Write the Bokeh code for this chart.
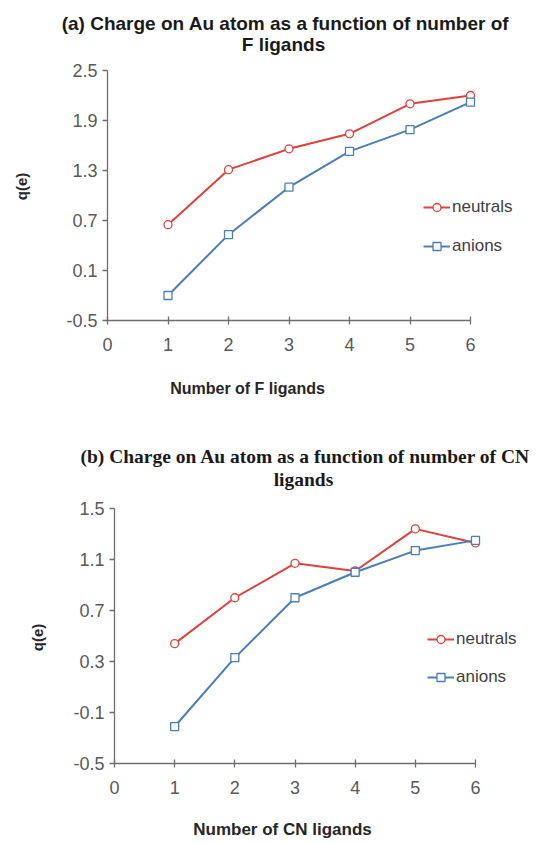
import math
from bokeh.plotting import figure
from bokeh.layouts import column
from bokeh.models import FixedTicker, Legend, LegendItem, Range1d, Label
from bokeh.embed import file_html
from bokeh.resources import INLINE

# ---- data ----
n_ligands = [1, 2, 3, 4, 5, 6]

f_neutrals = [0.65, 1.31, 1.56, 1.74, 2.10, 2.20]
f_anions = [-0.20, 0.53, 1.10, 1.53, 1.79, 2.12]

cn_neutrals = [0.44, 0.80, 1.07, 1.01, 1.34, 1.23]
cn_anions = [-0.21, 0.33, 0.80, 1.00, 1.17, 1.25]

f_yticks = [-0.5, 0.1, 0.7, 1.3, 1.9, 2.5]
cn_yticks = [-0.5, -0.1, 0.3, 0.7, 1.1, 1.5]
xticks = [0, 1, 2, 3, 4, 5, 6]

title_a = ["(a) Charge on Au atom as a function of number of", "F ligands"]
title_b = ["(b) Charge on Au atom as a function of number of CN", "ligands"]
xlabel_a = "Number of F ligands"
xlabel_b = "Number of CN ligands"
ylabel = "q(e)"
series_names = ["neutrals", "anions"]

RED = "#E2403A"
BLUE = "#4A7EBB"
TICK = "#595959"
AXIS = "#6e6e6e"
TITLE_C = "#1a1a1a"
LABEL_C = "#262626"
SANS = "Liberation Sans"
SERIF = "Liberation Serif"
FIG_W = 539


def make_chart(neu, ani, yticks, height, origin_px, axis_w, axis_h, texts,
               legend_loc, legend_spacing):
    """Whole figure is the frame; the axes sit at fixed data locations inside it.
    origin_px = (px from left, px from bottom) of the data point (0, yticks[0])."""
    ox, oy = origin_px
    ppx = axis_w / (xticks[-1] - xticks[0])
    ppy = axis_h / (yticks[-1] - yticks[0])
    x_range = Range1d(xticks[0] - ox / ppx, xticks[0] + (FIG_W - ox) / ppx)
    y_range = Range1d(yticks[0] - oy / ppy, yticks[0] + (height - oy) / ppy)
    p = figure(width=FIG_W, height=height, output_backend="svg",
               toolbar_location=None, title=None, x_range=x_range, y_range=y_range,
               min_border=0)
    p.outline_line_color = None
    p.grid.visible = False
    p.background_fill_color = "white"
    p.border_fill_color = "white"

    p.xaxis.fixed_location = yticks[0]
    p.yaxis.fixed_location = xticks[0]
    p.xaxis.ticker = FixedTicker(ticks=xticks)
    p.yaxis.ticker = FixedTicker(ticks=yticks)
    p.xaxis.bounds = (xticks[0], xticks[-1])
    p.yaxis.bounds = (yticks[0], yticks[-1])
    p.yaxis.major_label_overrides = {t: f"{t:g}" for t in yticks}
    for ax in (p.xaxis, p.yaxis):
        ax.axis_line_color = AXIS
        ax.axis_line_width = 1.3
        ax.major_tick_line_color = AXIS
        ax.major_tick_line_width = 1.3
        ax.minor_tick_line_color = None
        ax.major_label_text_font = SANS
        ax.major_label_text_font_size = "18px"
        ax.major_label_text_color = TICK
    p.xaxis.major_tick_in = 4
    p.xaxis.major_tick_out = 4
    p.yaxis.major_tick_in = 0
    p.yaxis.major_tick_out = 5
    p.xaxis.major_label_standoff = 13
    p.yaxis.major_label_standoff = 5

    l1 = p.line(n_ligands, neu, line_color=RED, line_width=2)
    s1 = p.scatter(n_ligands, neu, marker="circle", size=8, line_color=RED,
                   line_width=1.3, fill_color="white")
    l2 = p.line(n_ligands, ani, line_color=BLUE, line_width=2)
    s2 = p.scatter(n_ligands, ani, marker="square", size=8, line_color=BLUE,
                   line_width=1.3, fill_color="white")

    legend = Legend(items=[LegendItem(label=series_names[0], renderers=[l1, s1]),
                           LegendItem(label=series_names[1], renderers=[l2, s2])],
                    location=legend_loc, orientation="vertical",
                    glyph_width=27, glyph_height=20, label_standoff=2,
                    spacing=legend_spacing, padding=0, margin=0,
                    border_line_color=None, background_fill_alpha=0,
                    label_text_font=SANS, label_text_font_size="17px",
                    label_text_color="#404040")
    p.add_layout(legend, "center")

    for txt, sx, sy, font, size, color, angle in texts:
        p.add_layout(Label(x=sx, y=sy, x_units="screen", y_units="screen",
                           text=txt, text_align="center", text_baseline="middle",
                           angle=angle, text_font=font, text_font_style="bold",
                           text_font_size=size, text_color=color))
    return p


up = math.pi / 2
pa = make_chart(f_neutrals, f_anions, f_yticks, height=399, origin_px=(107, 79),
                axis_w=363, axis_h=250,
                texts=[(title_a[0], 285, 376, SANS, "19px", TITLE_C, 0),
                       (title_a[1], 283, 355, SANS, "19px", TITLE_C, 0),
                       (xlabel_a, 247, 11, SANS, "16px", LABEL_C, 0),
                       (ylabel, 21, 213, SANS, "15px", LABEL_C, up)],
                legend_loc=(423, 143), legend_spacing=19)
pb = make_chart(cn_neutrals, cn_anions, cn_yticks, height=439, origin_px=(114, 75),
                axis_w=361, axis_h=255,
                texts=[(title_b[0], 305, 382, SERIF, "19.5px", TITLE_C, 0),
                       (title_b[1], 303, 359, SERIF, "19.5px", TITLE_C, 0),
                       (xlabel_b, 282, 9, SANS, "17px", LABEL_C, 0),
                       (ylabel, 37, 201, SANS, "15px", LABEL_C, up)],
                legend_loc=(427, 151), legend_spacing=18)

layout = column(pa, pb, spacing=0)
open("out.html", "w").write(file_html(layout, INLINE))
